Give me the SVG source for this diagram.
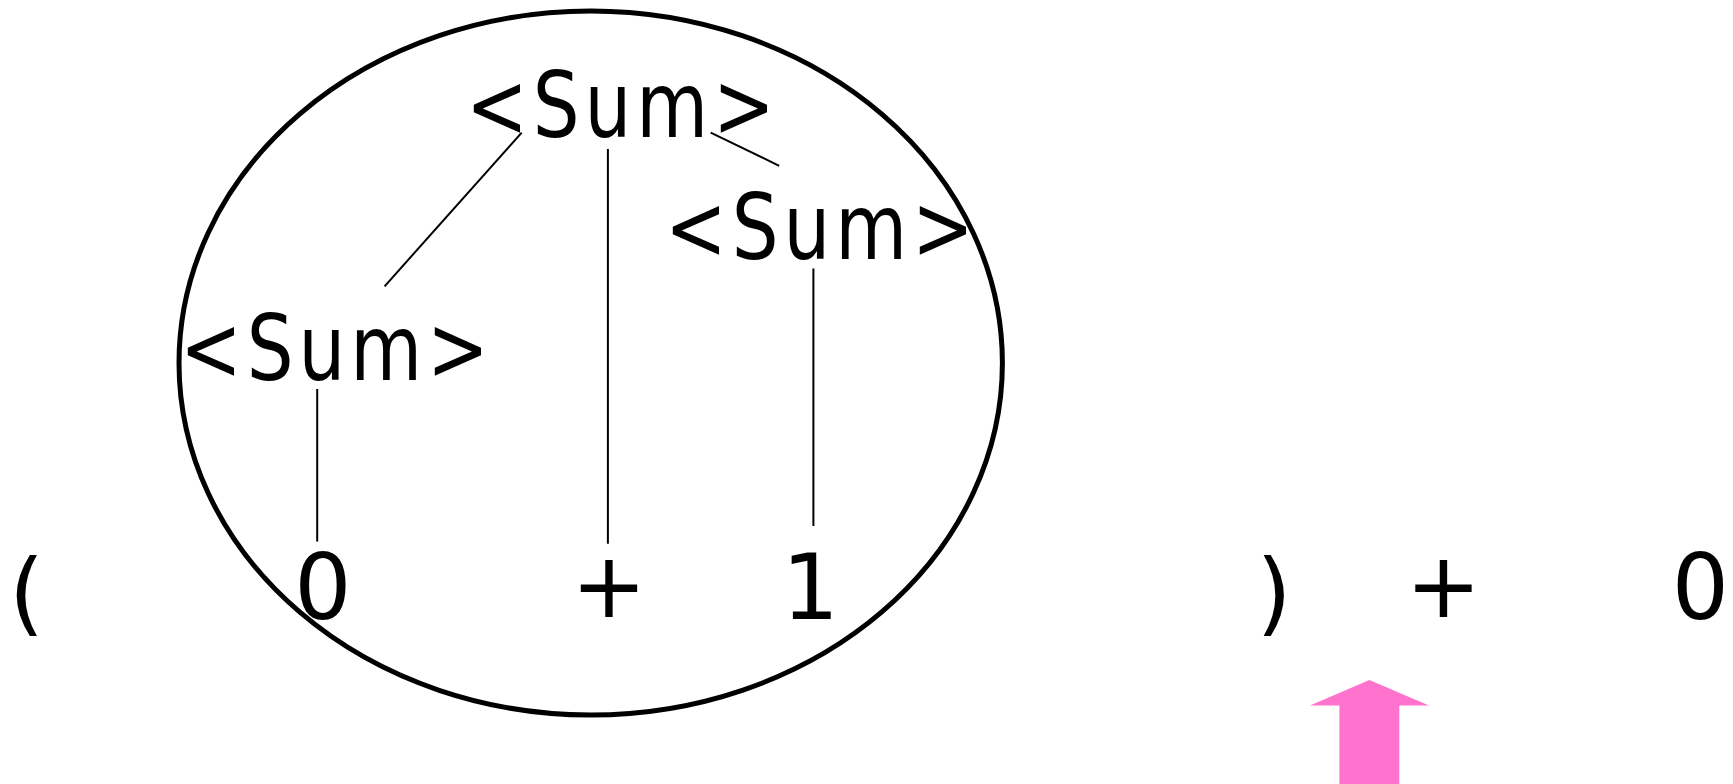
<svg xmlns="http://www.w3.org/2000/svg" width="1733" height="784" viewBox="0 0 1733 784">
<style>
.t{font-family:"DejaVu Sans","Noto Sans",sans-serif;font-size:90px;fill:#000}
.s{letter-spacing:6px}
.c{text-anchor:middle}
.e{stroke:#000;stroke-width:2;fill:none}
</style>
<rect width="1733" height="784" fill="#fff"/>
<g id="ellipse"><ellipse cx="590.7" cy="363" rx="411.7" ry="352" fill="none" stroke="#000" stroke-width="5"/></g>
<g id="connectors">
<line class="e" x1="521.7" y1="132.6" x2="384.6" y2="286.3"/>
<line class="e" x1="607.9" y1="149" x2="607.9" y2="543.8"/>
<line class="e" x1="710.7" y1="132.6" x2="779.2" y2="165.8"/>
<line class="e" x1="813.4" y1="268.6" x2="813.4" y2="526"/>
<line class="e" x1="317.2" y1="389" x2="317.2" y2="541.6"/>
</g>
<g id="sum-top"><text class="t s" transform="translate(466,137) scale(0.82,1)">&lt;Sum&gt;</text></g>
<g id="sum-right"><text class="t s" transform="translate(665,259) scale(0.82,1)">&lt;Sum&gt;</text></g>
<g id="sum-left"><text class="t s" transform="translate(180,380) scale(0.82,1)">&lt;Sum&gt;</text></g>
<g id="tok-lparen"><text class="t c" x="26.5" y="624" font-size="98">(</text></g>
<g id="tok-0a"><text class="t c" x="323" y="619">0</text></g>
<g id="tok-plus1"><text class="t c" x="609" y="617" font-size="84">+</text></g>
<g id="tok-1"><text class="t c" x="810.5" y="619">1</text></g>
<g id="tok-rparen"><text class="t c" x="1274" y="624" font-size="98">)</text></g>
<g id="tok-plus2"><text class="t c" x="1443.5" y="617" font-size="84">+</text></g>
<g id="tok-0b"><text class="t c" x="1700.5" y="619">0</text></g>
<g id="pointer"><polygon points="1369.4,680 1429,705.5 1399.3,705.5 1399.3,784 1339.4,784 1339.4,705.5 1310,705.5" fill="#FF73CE"/></g>
</svg>
